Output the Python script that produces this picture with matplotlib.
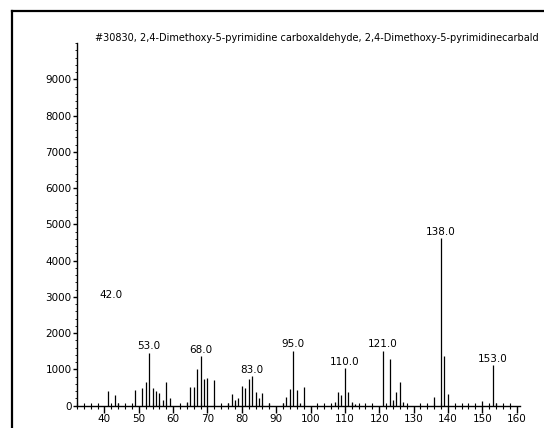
import numpy as np
import matplotlib.pyplot as plt
from matplotlib.lines import Line2D
from matplotlib.ticker import MultipleLocator

# m/z and intensities
mz = [41, 43, 44, 49, 51, 52, 53, 54, 55, 56, 57, 58, 59,
      64, 65, 66, 67, 68, 69, 70, 72, 76, 77, 78, 79, 80, 81, 82, 83,
      84, 85, 86, 88, 92, 93, 94, 95, 96, 97, 98,
      107, 108, 109, 110, 111, 112, 113,
      121, 123, 124, 125, 126, 127,
      136, 138, 139, 140, 150, 153, 154]
intensity = [390, 285, 75, 420, 480, 640, 1460, 480, 390, 340, 160, 640, 200,
             90, 500, 510, 1010, 1360, 740, 770, 700, 75, 310, 160, 200, 530, 480, 730, 810,
             370, 200, 350, 70, 60, 250, 460, 1510, 430, 60, 520,
             110, 370, 280, 1030, 370, 90, 45,
             1510, 1280, 165, 370, 640, 90,
             250, 4620, 1370, 320, 130, 1110, 80]

# labelled peaks (42.0 label has no visible line in the scan)
label_mz = [42, 53, 68, 83, 95, 110, 121, 138, 153]
label_int = [2860, 1460, 1360, 810, 1510, 1030, 1510, 4620, 1110]

# title as far as it shows in the scan (cut at the page edge)
title = "#30830, 2,4-Dimethoxy-5-pyrimidine carboxaldehyde, 2,4-Dimethoxy-5-pyrimidinecarbald"

fig = plt.figure(figsize=(5.44, 4.28), dpi=100)
ax = fig.add_axes([77/544, 1-405.6/428, 443/544, (405.6-43)/428])

ax.vlines(mz, 0, intensity, colors='black', linewidth=0.9)
for m, h in zip(label_mz, label_int):
    ax.text(m, h + 40, "%.1f" % m, ha='center', va='bottom', fontsize=7.5)

ax.set_xlim(32, 161)
ax.set_ylim(0, 10000)
ax.set_xticks(range(40, 161, 10))
ax.xaxis.set_minor_locator(MultipleLocator(2))
ax.set_yticks(range(0, 9001, 1000))
ax.yaxis.set_minor_locator(MultipleLocator(200))
ax.tick_params(axis='x', which='major', direction='out', length=5, width=1, labelsize=7.5, pad=1)
ax.tick_params(axis='x', which='minor', direction='inout', length=4, width=0.8)
ax.tick_params(axis='y', which='major', direction='out', length=3, width=1, labelsize=7.5, pad=1)
ax.tick_params(axis='y', which='minor', direction='out', length=1.5, width=0.6)
for s in ['top', 'right']:
    ax.spines[s].set_visible(False)
for s in ['left', 'bottom']:
    ax.spines[s].set_linewidth(1.0)

fig.text(95/544, 1-38/428, title, ha='left', va='center', fontsize=7.05)

# outer frame of the scanned page
fig.add_artist(Line2D([12/544, 12/544], [0, 1-11/428], color='black', linewidth=1.6))
fig.add_artist(Line2D([12/544, 1], [1-11/428, 1-11/428], color='black', linewidth=1.6))

plt.savefig("out.png", dpi=100)
